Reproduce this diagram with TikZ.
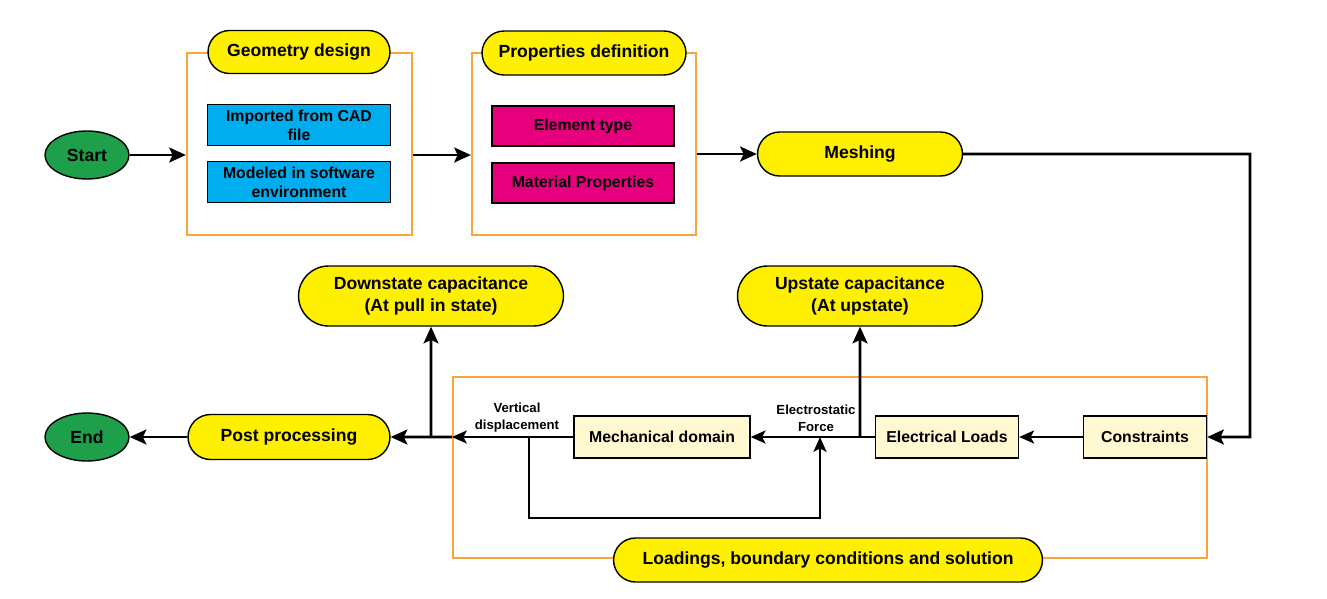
\documentclass[tikz,border=0pt]{standalone}
\usepackage{fontspec}
\setmainfont{Liberation Sans}
\usetikzlibrary{arrows.meta,shapes.misc,shapes.geometric}
\definecolor{pillyellow}{RGB}{255,240,0}
\definecolor{cadblue}{RGB}{0,174,239}
\definecolor{matmagenta}{RGB}{230,0,126}
\definecolor{solcream}{RGB}{255,248,208}
\definecolor{stageorange}{RGB}{247,166,59}
\definecolor{termgreen}{RGB}{30,160,75}

\begin{document}
\begin{tikzpicture}[x=0.02cm, y=-0.02cm,
        pill/.style={rounded rectangle, draw=black, fill=pillyellow, line width=0.8pt, inner sep=0pt,
            font=\bfseries\fontsize{10}{12.5}\selectfont, align=center},
        subbox/.style={rectangle, draw=black, line width=0.8pt, inner sep=0pt,
            font=\bfseries\fontsize{9}{10.8}\selectfont, align=center},
        stagebox/.style={rectangle, draw=stageorange, line width=1.3pt, inner sep=0pt},
        term/.style={ellipse, draw=black, fill=termgreen, line width=0.8pt, inner sep=0pt,
            minimum width=1.68cm, minimum height=0.96cm, font=\bfseries\fontsize{10}{12}\selectfont},
        smalltxt/.style={inner sep=0pt, align=center, font=\bfseries\fontsize{7.5}{9.6}\selectfont},
        arr/.style={-{Stealth[length=9.5pt,width=8.5pt,inset=2pt]}, line width=1.6pt},
        thinarr/.style={-{Stealth[length=8.5pt,width=7.5pt,inset=2pt]}, line width=0.9pt}]
        \useasboundingbox (0,0) rectangle (1327,598);

        % stage frames
        \node[stagebox, minimum width=4.5cm, minimum height=3.64cm] (geoframe) at (299.5,144) {};
        \node[stagebox, minimum width=4.48cm, minimum height=3.64cm] (propframe) at (584,144) {};
        \node[stagebox, minimum width=15.08cm, minimum height=3.62cm] (loadframe) at (830,467.5) {};

        \node[term] (start) at (87,155) {Start};
        \node[term] (end) at (87,437) {End};

        \node[pill, minimum width=3.64cm, minimum height=0.86cm] (geo) at (299,52) {Geometry design};
        \node[subbox, fill=cadblue, minimum width=3.66cm, minimum height=0.82cm] (cad) at (299,125) {Imported from CAD\\file};
        \node[subbox, fill=cadblue, minimum width=3.66cm, minimum height=0.82cm] (model) at (299,182) {Modeled in software\\environment};

        \node[pill, minimum width=4.08cm, minimum height=0.88cm] (prop) at (584,53) {Properties definition};
        \node[subbox, fill=matmagenta, minimum width=3.64cm, minimum height=0.8cm] (elem) at (583,126) {Element type};
        \node[subbox, fill=matmagenta, minimum width=3.64cm, minimum height=0.8cm] (matprop) at (583,183) {Material Properties};

        \node[pill, minimum width=4.1cm, minimum height=0.88cm] (mesh) at (860,154) {Meshing};
        \node[pill, minimum width=8.58cm, minimum height=0.88cm] (loading) at (828,560) {Loadings, boundary conditions and solution};

        \node[subbox, fill=solcream, minimum width=2.46cm, minimum height=0.84cm] (cons) at (1145,437) {Constraints};
        \node[subbox, fill=solcream, minimum width=2.86cm, minimum height=0.84cm] (elec) at (947,437) {Electrical Loads};
        \node[subbox, fill=solcream, minimum width=3.52cm, minimum height=0.84cm] (mech) at (662,437) {Mechanical domain};

        \node[pill, minimum width=5.3cm, minimum height=1.2cm] (downcap) at (431,296) {Downstate capacitance\\(At pull in state)};
        \node[pill, minimum width=4.9cm, minimum height=1.2cm] (upcap) at (860,296) {Upstate capacitance\\(At upstate)};
        \node[pill, minimum width=4.04cm, minimum height=0.9cm] (post) at (289,437) {Post processing};

        \node[smalltxt] (vdisp) at (517,418) {Vertical\\displacement};
        \node[smalltxt] (eforce) at (816,418) {Electrostatic\\Force};

        \coordinate (turn) at (1250,154);
        \coordinate (jup) at (860,437);
        \coordinate (jfb) at (529,437);
        \coordinate (jef) at (820,437);
        \coordinate (jdown) at (431,437);

        \draw[arr] (start) -- (start -| geoframe.west);
        \draw[arr] (start -| geoframe.east) -- (start -| propframe.west);
        \draw[arr] (mesh -| propframe.east) -- (mesh);
        \draw[arr] (mesh) -- (turn) |- (cons);
        \draw[thinarr] (cons) -- (elec);
        \draw[line width=0.9pt] (elec) -- (jup);
        \draw[thinarr] (jup) -- (mech);
        \draw[arr] (jup) -- (upcap);
        \draw[thinarr] (mech) -- (mech -| loadframe.west);
        \draw[thinarr] (jfb) -- ++(0,81) -| (jef);
        \draw[arr] (mech -| loadframe.west) -- (post);
        \draw[arr] (jdown) -- (downcap);
        \draw[arr] (post) -- (end);
\end{tikzpicture}
\end{document}
